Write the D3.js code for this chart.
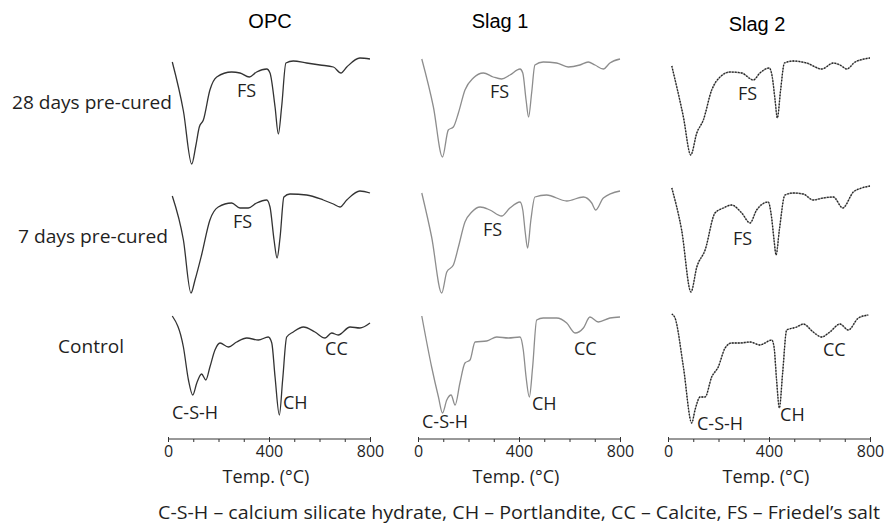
<!DOCTYPE html>
<html>
<head>
<meta charset="utf-8">
<script src="https://cdn.jsdelivr.net/npm/d3@7"></script>
<style>
  body { margin: 0; background: #fff; }
  svg { display: block; }
  text { font-family: "Open Sans", "Noto Sans", sans-serif; fill: #1f1f1f; }
  .title { font-family: "Liberation Sans", Arial, sans-serif; fill: #000; }
</style>
</head>
<body>
<div id="chart"></div>
<script>
// DTG curves, [temperature °C, relative DTG (a.u.)]
let opc28 = [[17,-6],[61,-55],[94,-108],[110,-90],[124,-71],[140,-64],[166,-34],[193,-21],[252,-16],[285,-17],[322,-21],[351,-16],[391,-13],[404,-17],[424,-51],[437,-78],[450,-51],[467,-7],[496,-5],[549,-7],[602,-9],[655,-11],[685,-17],[708,-11],[760,-2],[800,-3]];
let slag1_28 = [[15,-3],[61,-51],[97,-101],[120,-74],[140,-71],[160,-57],[186,-34],[219,-22],[259,-17],[298,-21],[331,-23],[364,-19],[404,-13],[415,-17],[428,-44],[438,-61],[450,-37],[463,-9],[496,-6],[549,-7],[595,-11],[641,-9],[674,-6],[701,-9],[734,-13],[760,-7],[800,-3]];
let slag2_28 = [[15,-10],[61,-61],[90,-99],[114,-77],[140,-64],[173,-34],[206,-21],[246,-16],[292,-17],[338,-24],[364,-17],[401,-12],[413,-21],[424,-44],[433,-62],[446,-34],[461,-7],[496,-5],[549,-7],[609,-13],[655,-7],[681,-9],[708,-13],[741,-6],[800,-2]];

let opc7 = [[17,-6],[61,-50],[91,-103],[107,-90],[133,-65],[166,-30],[199,-17],[252,-13],[285,-18],[318,-18],[351,-13],[391,-10],[404,-17],[420,-50],[432,-68],[444,-47],[459,-7],[483,-4],[549,-5],[615,-10],[655,-14],[681,-17],[708,-10],[760,-1],[800,-3]];
let slag1_7 = [[15,-3],[54,-47],[94,-103],[114,-82],[140,-75],[160,-57],[186,-32],[213,-22],[246,-17],[285,-20],[331,-26],[364,-18],[404,-12],[415,-20],[425,-43],[434,-58],[447,-30],[463,-7],[509,-5],[589,-11],[655,-7],[688,-13],[704,-20],[734,-8],[800,-1]];
let slag2_7 = [[15,2],[54,-40],[91,-102],[114,-77],[147,-60],[186,-23],[219,-18],[252,-15],[292,-23],[325,-33],[351,-20],[397,-12],[410,-27],[420,-50],[428,-65],[441,-40],[463,-5],[496,-3],[536,-4],[575,-10],[615,-8],[655,-7],[692,-18],[734,-2],[767,2],[800,4]];

let opcC = [[17,-4],[61,-35],[81,-68],[98,-83],[114,-71],[133,-62],[150,-68],[166,-55],[186,-38],[206,-31],[239,-35],[272,-30],[312,-26],[358,-28],[397,-25],[411,-31],[424,-65],[441,-103],[454,-68],[470,-25],[496,-20],[536,-15],[582,-20],[622,-26],[648,-21],[674,-23],[721,-15],[760,-16],[800,-11]];
let slag1C = [[15,-4],[54,-55],[81,-85],[97,-101],[114,-88],[131,-83],[147,-93],[166,-71],[186,-51],[206,-48],[226,-30],[272,-29],[312,-25],[358,-26],[404,-25],[417,-38],[428,-65],[441,-85],[454,-55],[470,-8],[496,-6],[549,-6],[589,-11],[622,-21],[655,-16],[681,-5],[714,-10],[760,-6],[800,-5]];
let slag2C = [[15,-2],[28,-6],[61,-55],[94,-111],[107,-98],[127,-85],[147,-85],[173,-65],[199,-55],[226,-36],[252,-31],[285,-31],[325,-30],[364,-33],[411,-28],[420,-35],[430,-68],[441,-96],[454,-61],[470,-18],[510,-15],[536,-12],[575,-20],[609,-25],[641,-20],[681,-12],[714,-18],[754,-6],[793,-3]];

let mixes = ["OPC", "Slag 1", "Slag 2"];
let rowNames = ["28 days pre-cured", "7 days pre-cured", "Control"];
let curves = [
	[opc28, slag1_28, slag2_28],
	[opc7, slag1_7, slag2_7],
	[opcC, slag1C, slag2C]
];

// peak labels: [text, temperature, DTG]
let notes = [
	[[["FS", 273, -41]], [["FS", 285, -42]], [["FS", 277, -44]]],
	[[["FS", 257, -38]], [["FS", 257, -46]], [["FS", 257, -55]]],
	[[["C-S-H", 16, -107], ["CH", 455, -97], ["CC", 622, -43]],
	 [["C-S-H", 16, -116], ["CH", 451, -98], ["CC", 618, -43]],
	 [["C-S-H", 115, -118], ["CH", 444, -109], ["CC", 614, -44]]]
];

let tempTicks = [0, 100, 200, 300, 400, 500, 600, 700, 800];
let footnote = "C-S-H \u2013 calcium silicate hydrate, CH \u2013 Portlandite, CC \u2013 Calcite, FS \u2013 Friedel\u2019s salt";

let width = 887,
	height = 527,
	panelLeft = [168, 418, 668],
	panelWidth = 202,
	rowTop = [56, 190, 312],
	axisY = 439,
	titleX = [270, 500, 757],
	titleY = [28, 28, 31],
	rowLabelPos = [[12, 109, 160], [18, 243, 150], [58, 353, 66]];

let svg = d3.select("#chart").append("svg")
	.attr("width", width)
	.attr("height", height);

// column titles
svg.selectAll(".title")
	.data(mixes)
	.enter().append("text")
	.attr("class", "title")
	.attr("x", (d, i) => titleX[i])
	.attr("y", (d, i) => titleY[i])
	.attr("text-anchor", "middle")
	.style("font-size", "20px")
	.text(d => d);

// row labels
svg.selectAll(".rowlab")
	.data(rowNames)
	.enter().append("text")
	.attr("class", "rowlab")
	.attr("x", (d, i) => rowLabelPos[i][0])
	.attr("y", (d, i) => rowLabelPos[i][1])
	.attr("textLength", (d, i) => rowLabelPos[i][2])
	.attr("lengthAdjust", "spacingAndGlyphs")
	.style("font-size", "18px")
	.text(d => d);

let strokeFor = ["#333", "#8d8d8d", "#9a9a9a"];

mixes.forEach(function (m, c) {
	let x = d3.scaleLinear()
		.domain([0, 800])
		.range([panelLeft[c], panelLeft[c] + panelWidth]);

	rowNames.forEach(function (r, k) {
		let y = d3.scaleLinear()
			.domain([0, -120])
			.range([rowTop[k], rowTop[k] + 120]);

		let line = d3.line()
			.x(d => x(d[0]))
			.y(d => y(d[1]))
			.curve(d3.curveMonotoneX);

		svg.append("path")
			.datum(curves[k][c])
			.attr("fill", "none")
			.attr("stroke", strokeFor[c])
			.attr("stroke-width", 1.3)
			.attr("stroke-linejoin", "round")
			.attr("d", line);

		// Slag 2 curves are dotted in the original
		if (c == 2) {
			svg.append("path")
				.datum(curves[k][c])
				.attr("fill", "none")
				.attr("stroke", "#222")
				.attr("stroke-width", 1.3)
				.attr("stroke-dasharray", "1.5,1.5")
				.attr("d", line);
		}

		svg.append("g")
			.selectAll("text")
			.data(notes[k][c])
			.enter().append("text")
			.attr("x", d => x(d[1]))
			.attr("y", d => y(d[2]))
			.style("font-size", "18px")
			.text(d => d[0]);
	});

	// temperature axis
	let axis = d3.axisBottom(x)
		.tickValues(tempTicks)
		.tickSize(3)
		.tickFormat(d => d % 400 == 0 ? d : "");

	let g = svg.append("g")
		.attr("transform", "translate(0," + axisY + ")")
		.call(axis);

	g.select(".domain").attr("stroke", "#333").attr("d", "M" + x(0) + ",0H" + x(800));
	g.selectAll(".tick line")
		.attr("stroke", "#333")
		.attr("y1", d => d % 400 == 0 ? -2 : 0);
	g.selectAll(".tick text")
		.attr("y", 7)
		.style("font-family", "'Open Sans', sans-serif")
		.style("font-size", "16px")
		.attr("fill", "#1f1f1f");

	svg.append("text")
		.attr("x", x(400) - 3)
		.attr("y", 483)
		.attr("text-anchor", "middle")
		.style("font-size", "18px")
		.text("Temp. (\u00B0C)");
});

svg.append("text")
	.attr("x", 158)
	.attr("y", 519)
	.attr("textLength", 722)
	.attr("lengthAdjust", "spacingAndGlyphs")
	.style("font-size", "18px")
	.text(footnote);
</script>
</body>
</html>
